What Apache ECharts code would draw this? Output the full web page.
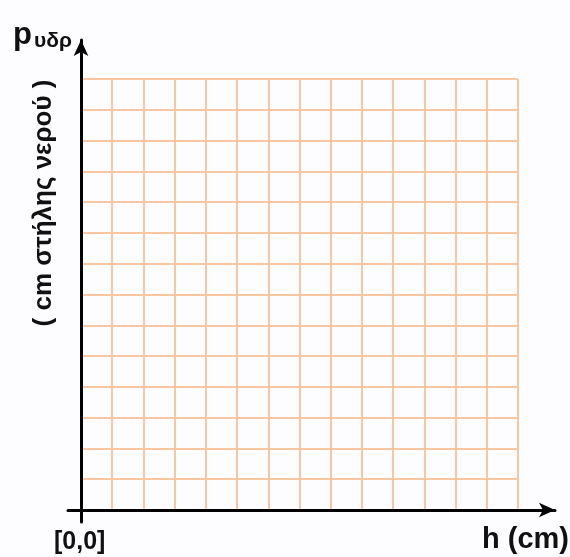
<!DOCTYPE html>
<html>
<head>
<meta charset="utf-8">
<script src="https://cdn.jsdelivr.net/npm/echarts@6/dist/echarts.min.js"></script>
<style>
html,body{margin:0;padding:0;background:#fdfdff;}
#c{width:570px;height:557px;}
</style>
</head>
<body>
<div id="c"></div>
<script>
// grid of 14 x 14 empty cells (no data series)
const xCells = 14;
const yCells = 14;
const yTitleMain = 'p';
const yTitleSub = 'υδρ';
const yUnit = '( cm στήλης νερού )';
const xTitle = 'h (cm)';
const originLabel = '[0,0]';

const chart = echarts.init(document.getElementById('c'), null, {renderer: 'canvas'});
const font = 'Liberation Sans, Arial, sans-serif';
const gridLine = {show: true, lineStyle: {color: '#f8c6a0', width: 2}};

const G = {left: 81, top: 79, w: 437, h: 431};
const frame = {left: 68, right: 15, top: 40, bottom: 35};
const fw = 570 - frame.left - frame.right;
const fh = 557 - frame.top - frame.bottom;

chart.setOption({
  backgroundColor: '#fdfdff',
  animation: false,
  grid: [
    {left: G.left, top: G.top, width: G.w, height: G.h, show: false},
    {left: frame.left, right: frame.right, top: frame.top, bottom: frame.bottom, show: false}
  ],
  xAxis: [
    {gridIndex: 0, type: 'value', min: 0, max: xCells, interval: 1,
     axisLine: {show: false}, axisTick: {show: false}, axisLabel: {show: false}, splitLine: gridLine},
    {gridIndex: 1, type: 'value', min: -(G.left - frame.left), max: fw - (G.left - frame.left),
     axisLine: {show: true, onZero: true, symbol: ['none', 'arrow'], symbolSize: [11, 16],
       lineStyle: {color: '#000', width: 3}},
     axisTick: {show: false}, axisLabel: {show: false}, splitLine: {show: false}}
  ],
  yAxis: [
    {gridIndex: 0, type: 'value', min: 0, max: yCells, interval: 1,
     axisLine: {show: false}, axisTick: {show: false}, axisLabel: {show: false}, splitLine: gridLine},
    {gridIndex: 1, type: 'value',
     min: -(557 - frame.bottom - (G.top + G.h)), max: fh - (557 - frame.bottom - (G.top + G.h)),
     axisLine: {show: true, onZero: true, symbol: ['none', 'arrow'], symbolSize: [11, 16],
       lineStyle: {color: '#000', width: 3}},
     axisTick: {show: false}, axisLabel: {show: false}, splitLine: {show: false}}
  ],
  series: [],
  graphic: [
    {type: 'text', left: 13, top: 20, style: {text: yTitleMain, font: 'bold 31px ' + font, fill: '#111'}},
    {type: 'text', left: 34, top: 31, style: {text: yTitleSub, font: 'bold 21px ' + font, fill: '#111'}},
    {type: 'text', x: 44, y: 203, rotation: Math.PI / 2,
     style: {text: yUnit, font: 'bold 26px ' + font, fill: '#111', align: 'center', verticalAlign: 'middle'}},
    {type: 'text', left: 54, top: 530, style: {text: originLabel, font: 'bold 25px ' + font, fill: '#111'}},
    {type: 'text', right: 1, top: 525, style: {text: xTitle, font: 'bold 29px ' + font, fill: '#111'}}
  ]
});
</script>
</body>
</html>
